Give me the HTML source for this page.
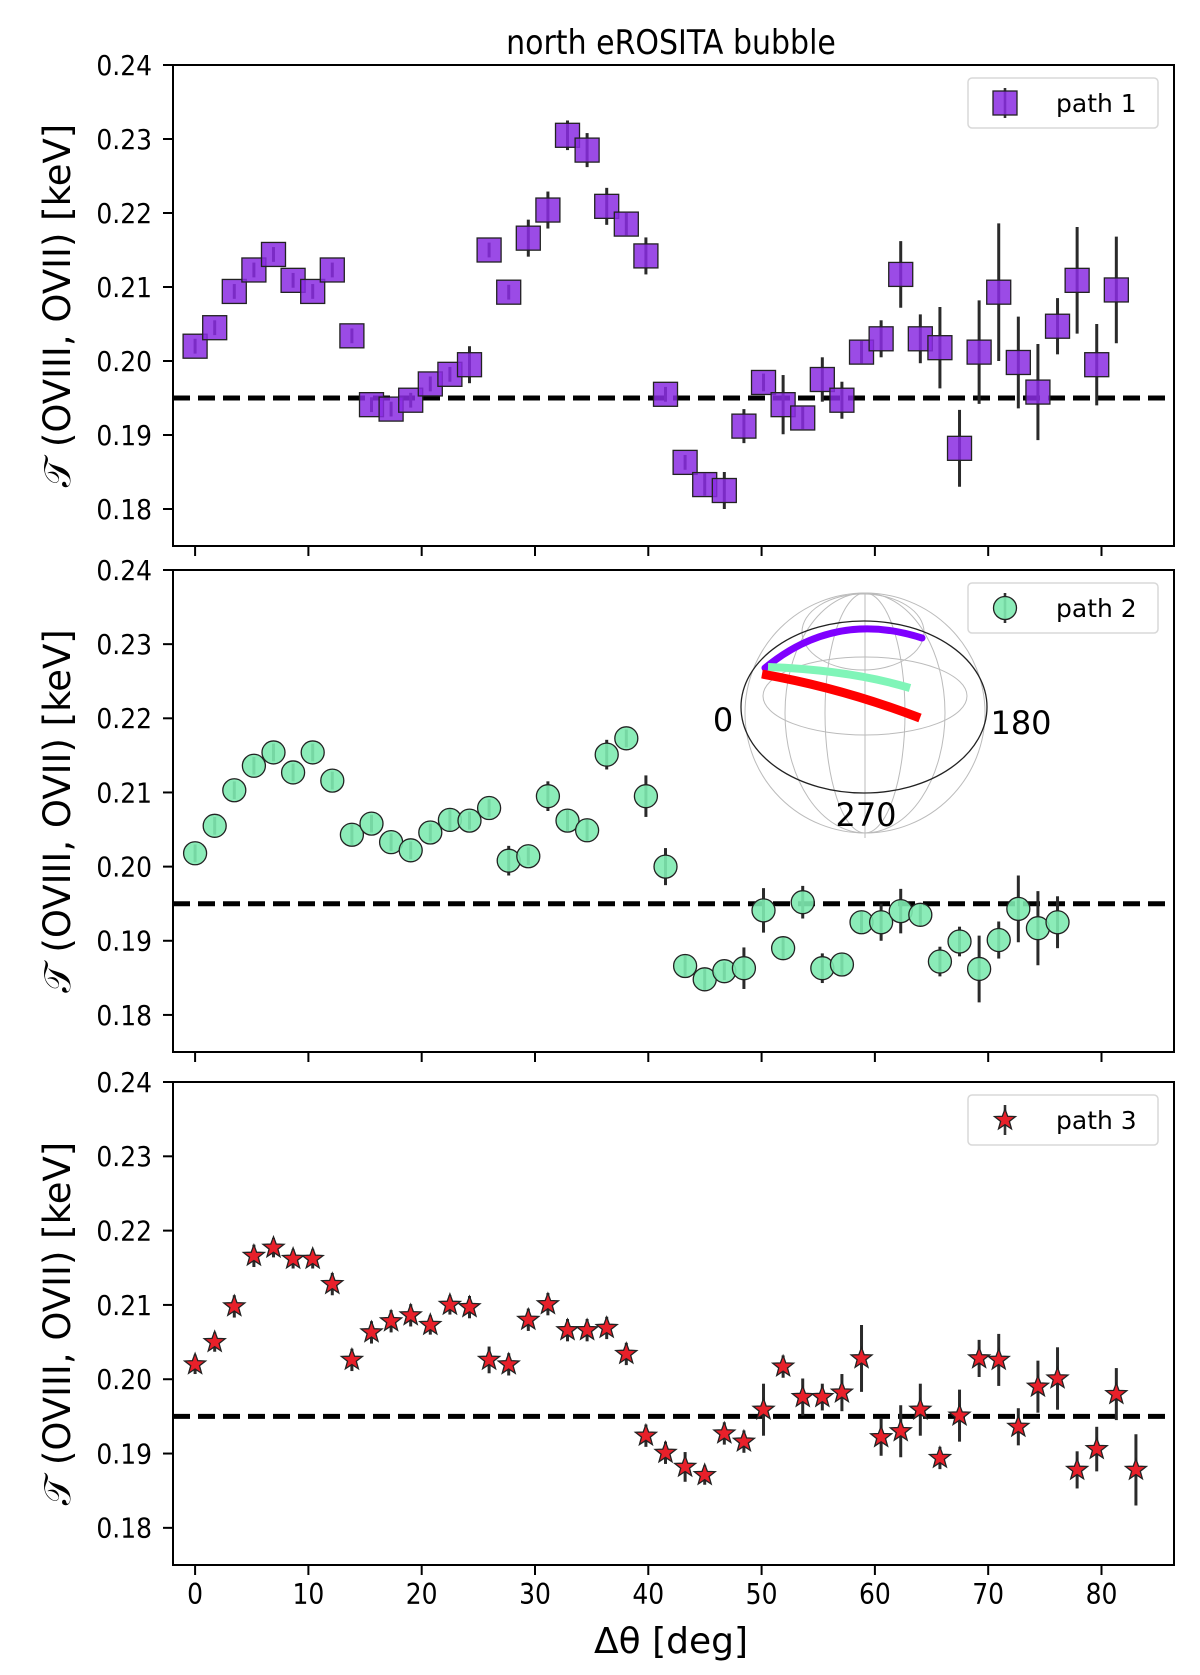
<!DOCTYPE html>
<html><head><meta charset="utf-8">
<style>
html,body{margin:0;padding:0;background:#fff;}
svg{display:block;font-family:"DejaVu Sans","Liberation Sans",sans-serif;}
</style></head>
<body>
<svg id="fig" width="1200" height="1675" viewBox="0 0 1200 1675" xmlns="http://www.w3.org/2000/svg">
<rect width="1200" height="1675" fill="#fff"/>
<text x="671" y="54" font-size="30" text-anchor="middle" transform="translate(671,54) scale(1,1.12) translate(-671,-54)">north eROSITA bubble</text>
<g id="p1"></g>
<g id="p2"></g>
<g id="p3"></g>
<text x="671" y="1653" font-size="36" text-anchor="middle">Δθ [deg]</text>
</svg>
<script>
const xTicks=[0,10,20,30,40,50,60,70,80];
const yTicks=[0.18,0.19,0.20,0.21,0.22,0.23,0.24];
const yTickLabels=["0.18","0.19","0.20","0.21","0.22","0.23","0.24"];
const refLevel=0.195;
const step=1.73;
const path1Vals=[0.2020,0.2045,0.2094,0.2123,0.2144,0.2109,0.2094,0.2123,0.2034,0.1941,0.1935,0.1947,0.1969,0.1982,0.1995,0.2150,0.2093,0.2166,0.2204,0.2305,0.2285,0.2209,0.2185,0.2142,0.1955,0.1863,0.1833,0.1825,0.1912,0.1971,0.1941,0.1923,0.1975,0.1947,0.2012,0.2030,0.2117,0.2030,0.2018,0.1882,0.2012,0.2093,0.1998,0.1958,0.2047,0.2109,0.1995,0.2096];
const path1Err=[0.001,0.001,0.001,0.001,0.001,0.001,0.001,0.001,0.001,0.001,0.001,0.001,0.001,0.001,0.0025,0.001,0.001,0.0025,0.0025,0.002,0.0023,0.0025,0.0015,0.0025,0.001,0.001,0.0015,0.0025,0.0023,0.0012,0.004,0.0015,0.003,0.0025,0.0015,0.0025,0.0045,0.0033,0.0055,0.0052,0.007,0.0093,0.0062,0.0065,0.0038,0.0072,0.0055,0.0072];
const path2Vals=[0.2018,0.2055,0.2103,0.2136,0.2154,0.2127,0.2154,0.2116,0.2043,0.2058,0.2033,0.2022,0.2046,0.2063,0.2062,0.2079,0.2008,0.2014,0.2095,0.2062,0.2049,0.2151,0.2173,0.2095,0.2000,0.1866,0.1848,0.1859,0.1863,0.1941,0.1890,0.1952,0.1863,0.1868,0.1925,0.1925,0.1940,0.1935,0.1872,0.1899,0.1862,0.1901,0.1943,0.1917,0.1925];
const path2Err=[0.0012,0.0012,0.0012,0.0012,0.0012,0.0012,0.0012,0.0012,0.0015,0.0012,0.0012,0.0012,0.0012,0.0015,0.0012,0.0012,0.002,0.0012,0.002,0.0015,0.0015,0.002,0.0012,0.0028,0.0025,0.0015,0.0015,0.0012,0.0028,0.003,0.0015,0.0022,0.002,0.0015,0.0015,0.0025,0.003,0.0015,0.002,0.002,0.0045,0.0025,0.0045,0.005,0.0035];
const path3Vals=[0.2020,0.2050,0.2098,0.2166,0.2177,0.2162,0.2162,0.2128,0.2026,0.2063,0.2078,0.2086,0.2073,0.2100,0.2097,0.2026,0.2020,0.2080,0.2101,0.2066,0.2066,0.2069,0.2034,0.1924,0.1901,0.1882,0.1871,0.1927,0.1916,0.1959,0.2017,0.1976,0.1976,0.1982,0.2028,0.1922,0.1930,0.1959,0.1894,0.1951,0.2028,0.2026,0.1936,0.1990,0.2001,0.1878,0.1906,0.1980,0.1878];
const path3Err=[0.0013,0.0013,0.0015,0.0015,0.0013,0.0013,0.0013,0.0015,0.0015,0.0015,0.0015,0.0015,0.0013,0.0013,0.0015,0.0018,0.0015,0.0015,0.0015,0.0015,0.0015,0.0015,0.0015,0.0015,0.0015,0.002,0.0013,0.0015,0.0015,0.0035,0.0015,0.0025,0.0018,0.0025,0.0045,0.0025,0.0035,0.0035,0.0015,0.0035,0.0025,0.0035,0.0025,0.0035,0.0042,0.0025,0.003,0.0035,0.0048];

const NS="http://www.w3.org/2000/svg";
const X0=173,X1=1174,XMIN=-1.95,XMAX=86.4,YMIN=0.175,YMAX=0.24;
function mk(tag,attrs,parent){const e=document.createElementNS(NS,tag);for(const k in attrs)e.setAttribute(k,attrs[k]);parent.appendChild(e);return e;}
function xs(v){return X0+(v-XMIN)/(XMAX-XMIN)*(X1-X0);}

function marker(g,shape,cx,cy,fill){
  let m;
  if(shape==='square'){m=mk('rect',{x:cx-12,y:cy-12,width:24,height:24,fill:fill,'fill-opacity':0.85,stroke:'#222',"stroke-width":1.3},g);}
  else if(shape==='circle'){m=mk('circle',{cx:cx,cy:cy,r:11.5,fill:fill,'fill-opacity':0.9,stroke:'#222',"stroke-width":1.3},g);}
  else{let pts=[];for(let k=0;k<10;k++){const r=k%2?4.6:11;const a=-Math.PI/2+k*Math.PI/5;pts.push((cx+r*Math.cos(a)).toFixed(1)+','+(cy+r*Math.sin(a)).toFixed(1));}
    m=mk('polygon',{points:pts.join(' '),fill:fill,stroke:'#222',"stroke-width":1.3},g);}
  return m;
}

function panel(id,top,bot,vals,errs,shape,fill,label,showX){
  const g=document.getElementById(id);
  const ys=v=>bot-(v-YMIN)/(YMAX-YMIN)*(bot-top);
  const rl=mk('line',{x1:X0,x2:X1,y1:ys(refLevel),y2:ys(refLevel),stroke:'#000','stroke-width':5,'stroke-dasharray':'17,8'},g);
  
  
  vals.forEach((v,i)=>{
    const x=xs(i*step);
    const e=mk('line',{x1:x,x2:x,y1:ys(v-errs[i]),y2:ys(v+errs[i]),stroke:'#2a2a2a','stroke-width':3},g);
    
    
    const m=marker(g,shape,x,ys(v),fill);
    
    
  });
  const fr=mk('rect',{x:X0,y:top,width:X1-X0,height:bot-top,fill:'none',stroke:'#000','stroke-width':2},g);
  
  
  yTicks.forEach((t,i)=>{
    const y=ys(t);
    const tk=mk('line',{x1:X0-10,x2:X0,y1:y,y2:y,stroke:'#000','stroke-width':2},g);
    
    
    const tl=mk('text',{x:152,y:y+9,'font-size':25,'text-anchor':'end',transform:`translate(152,${y}) scale(1,1.1) translate(-152,${-y})`},g);
    tl.textContent=yTickLabels[i];
    
    
  });
  xTicks.forEach(t=>{
    const x=xs(t);
    const tk=mk('line',{x1:x,x2:x,y1:bot,y2:bot+10,stroke:'#000','stroke-width':2},g);
    
    
    if(showX){
      const tl=mk('text',{x:x,y:bot+38,'font-size':25,'text-anchor':'middle',transform:`translate(${x},${bot+30}) scale(1,1.15) translate(${-x},${-(bot+30)})`},g);
      tl.textContent=String(t);
      
      
    }
  });
  const cy=(top+bot)/2;
  const yl=mk('text',{x:70,y:cy,'font-size':37,'text-anchor':'middle',transform:`rotate(-90 70 ${cy})`},g);
  yl.textContent='𝒯 (OVIII, OVII) [keV]';
  
  
  const lg=mk('g',{},g);
  
  
  mk('rect',{x:968,y:top+13,width:190,height:50,rx:4,fill:'#fff','fill-opacity':0.8,stroke:'#d8d8d8','stroke-width':1.5},lg);
  mk('line',{x1:1005,x2:1005,y1:top+23,y2:top+53,stroke:'#333','stroke-width':2.6},lg);
  marker(lg,shape,1005,top+38,fill);
  const lt=mk('text',{x:1056,y:top+47,'font-size':25},lg);
  lt.textContent=label;
  
  
}
panel('p1',65,546,path1Vals,path1Err,'square','#8a2be2','path 1',false);
panel('p2',570,1052,path2Vals,path2Err,'circle','#7eeab0','path 2',false);
panel('p3',1082,1565,path3Vals,path3Err,'star','#e8202a','path 3',true);

const fig=document.getElementById('fig');
const ins=mk('g',{},fig);


const gc='#bbb';
mk('circle',{cx:865,cy:713,r:120,fill:'#fff',stroke:gc,'stroke-width':1},ins);
mk('ellipse',{cx:865,cy:713,rx:80,ry:120,fill:'none',stroke:gc,'stroke-width':1},ins);
mk('ellipse',{cx:865,cy:713,rx:40,ry:120,fill:'none',stroke:gc,'stroke-width':1},ins);
mk('line',{x1:865,x2:865,y1:593,y2:838,stroke:gc,'stroke-width':1},ins);
mk('ellipse',{cx:865,cy:696,rx:102,ry:39,fill:'none',stroke:gc,'stroke-width':1},ins);
mk('ellipse',{cx:863,cy:632,rx:61,ry:38,fill:'none',stroke:gc,'stroke-width':1},ins);
mk('ellipse',{cx:864,cy:707,rx:123,ry:86,fill:'none',stroke:'#222','stroke-width':1.3},ins);
const a1=mk('path',{d:'M765,668 Q835,610 922,638',fill:'none',stroke:'#7f00ff','stroke-width':7,'stroke-linecap':'round'},ins);


const a2=mk('path',{d:'M768,667 Q850,670 910,688',fill:'none',stroke:'#80f5b8','stroke-width':8},ins);


const a3=mk('path',{d:'M762,674 Q842,688 920,718',fill:'none',stroke:'#ff0000','stroke-width':9},ins);


[['0',723,731],['180',1021,734],['270',866,826]].forEach(d=>{
  const t=mk('text',{x:d[1],y:d[2],'font-size':32,'text-anchor':'middle'},ins);
  t.textContent=d[0];
  
  
});
</script>
</body></html>
